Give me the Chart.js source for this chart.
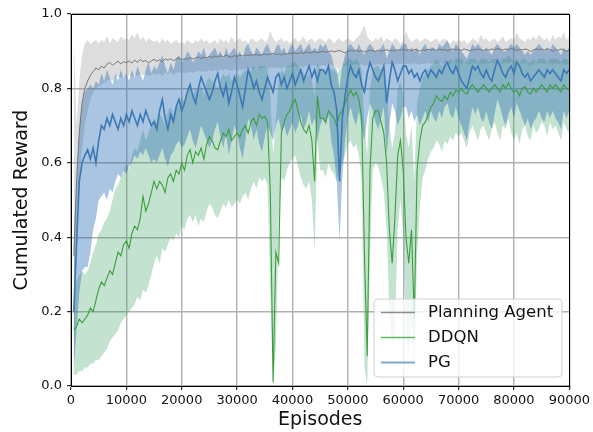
<!DOCTYPE html>
<html>
<head>
<meta charset="utf-8">
<script src="https://cdn.jsdelivr.net/npm/chart.js@4.4.1/dist/chart.umd.min.js"></script>
<style>
  html, body { margin: 0; padding: 0; background: #ffffff; }
  #wrap { width: 593px; height: 432px; position: relative; }
</style>
</head>
<body>
<div id="wrap"><canvas id="c" width="593" height="432"></canvas></div>
<script>
// ---- Data ----
const episodes = [
  500,1000,1500,2000,2500,3000,3500,4000,4500,5000,
  5500,6000,6500,7000,7500,8000,8500,9000,9500,10000,
  10500,11000,11500,12000,12500,13000,13500,14000,14500,15000,
  15500,16000,16500,17000,17500,18000,18500,19000,19500,20000,
  20500,21000,21500,22000,22500,23000,23500,24000,24500,25000,
  25500,26000,26500,27000,27500,28000,28500,29000,29500,30000,
  30500,31000,31500,32000,32500,33000,33500,34000,34500,35000,
  35500,36000,36500,37000,37500,38000,38500,39000,39500,40000,
  40500,41000,41500,42000,42500,43000,43500,44000,44500,45000,
  45500,46000,46500,47000,47500,48000,48500,49000,49500,50000,
  50500,51000,51500,52000,52500,53000,53500,54000,54500,55000,
  55500,56000,56500,57000,57500,58000,58500,59000,59500,60000,
  60500,61000,61500,62000,62500,63000,63500,64000,64500,65000,
  65500,66000,66500,67000,67500,68000,68500,69000,69500,70000,
  70500,71000,71500,72000,72500,73000,73500,74000,74500,75000,
  75500,76000,76500,77000,77500,78000,78500,79000,79500,80000,
  80500,81000,81500,82000,82500,83000,83500,84000,84500,85000,
  85500,86000,86500,87000,87500,88000,88500,89000,89500,90000
];

const xTicks = [0,10000,20000,30000,40000,50000,60000,70000,80000,90000];
const yTicks = [0.0,0.2,0.4,0.6,0.8,1.0];
const seriesNames = ["Planning Agent", "DDQN", "PG"];

const planningMean = [
  0.35,0.55,0.68,0.76,0.80,0.82,0.835,0.845,0.855,0.85,
  0.86,0.855,0.865,0.87,0.862,0.868,0.873,0.866,0.872,0.869,
  0.874,0.868,0.876,0.87,0.878,0.872,0.875,0.869,0.874,0.878,
  0.873,0.877,0.872,0.879,0.876,0.88,0.874,0.879,0.882,0.877,
  0.88,0.878,0.883,0.879,0.882,0.885,0.88,0.884,0.882,0.886,
  0.883,0.887,0.884,0.888,0.885,0.889,0.886,0.884,0.888,0.886,
  0.889,0.887,0.89,0.888,0.891,0.889,0.892,0.888,0.891,0.893,
  0.89,0.892,0.894,0.891,0.893,0.89,0.894,0.892,0.895,0.893,
  0.896,0.893,0.897,0.894,0.898,0.895,0.897,0.899,0.896,0.898,
  0.9,0.897,0.899,0.901,0.898,0.9,0.902,0.899,0.895,0.9,
  0.902,0.9,0.903,0.899,0.902,0.898,0.9,0.903,0.901,0.899,
  0.903,0.9,0.902,0.904,0.901,0.903,0.9,0.904,0.902,0.905,
  0.902,0.904,0.901,0.905,0.903,0.9,0.904,0.902,0.905,0.903,
  0.905,0.902,0.906,0.903,0.905,0.901,0.904,0.906,0.903,0.905,
  0.902,0.906,0.904,0.901,0.905,0.903,0.906,0.904,0.902,0.905,
  0.903,0.906,0.904,0.907,0.905,0.903,0.906,0.904,0.907,0.905,
  0.902,0.905,0.903,0.906,0.904,0.899,0.903,0.906,0.904,0.906,
  0.903,0.907,0.904,0.9,0.905,0.902,0.906,0.903,0.9,0.904
];
const planningUpper = [
  0.94,0.70,0.82,0.89,0.92,0.93,0.92,0.925,0.93,0.92,
  0.93,0.925,0.94,0.92,0.935,0.93,0.925,0.94,0.93,0.935,
  0.93,0.945,0.935,0.95,0.93,0.94,0.925,0.935,0.93,0.925,
  0.93,0.92,0.935,0.925,0.93,0.92,0.925,0.93,0.92,0.925,
  0.92,0.93,0.925,0.92,0.93,0.925,0.935,0.925,0.93,0.92,
  0.925,0.93,0.92,0.935,0.925,0.93,0.92,0.94,0.925,0.93,
  0.935,0.925,0.93,0.92,0.935,0.93,0.925,0.93,0.935,0.925,
  0.93,0.955,0.935,0.925,0.93,0.935,0.925,0.93,0.92,0.93,
  0.935,0.925,0.93,0.94,0.925,0.93,0.935,0.925,0.93,0.935,
  0.93,0.925,0.935,0.93,0.92,0.93,0.935,0.925,0.93,0.935,
  0.93,0.925,0.935,0.94,0.955,0.97,0.94,0.93,0.925,0.935,
  0.93,0.94,0.925,0.935,0.93,0.925,0.935,0.93,0.92,0.93,
  0.955,0.935,0.925,0.93,0.935,0.925,0.93,0.935,0.93,0.925,
  0.93,0.935,0.925,0.93,0.935,0.925,0.92,0.93,0.925,0.93,
  0.925,0.93,0.92,0.925,0.935,0.93,0.925,0.945,0.93,0.935,
  0.925,0.93,0.935,0.925,0.93,0.94,0.925,0.93,0.935,0.93,
  0.95,0.935,0.93,0.925,0.935,0.93,0.94,0.93,0.945,0.935,
  0.93,0.935,0.925,0.945,0.93,0.94,0.935,0.95,0.93,0.94
];
const planningLower = [
  0.0,0.40,0.55,0.64,0.70,0.74,0.77,0.79,0.80,0.805,
  0.81,0.815,0.82,0.825,0.82,0.83,0.832,0.828,0.835,0.83,
  0.836,0.83,0.838,0.832,0.84,0.835,0.838,0.832,0.836,0.84,
  0.836,0.84,0.834,0.842,0.838,0.843,0.836,0.842,0.845,0.84,
  0.843,0.84,0.846,0.842,0.845,0.848,0.843,0.847,0.845,0.849,
  0.846,0.85,0.847,0.851,0.848,0.852,0.849,0.847,0.851,0.849,
  0.852,0.85,0.853,0.851,0.854,0.852,0.855,0.851,0.854,0.856,
  0.853,0.855,0.857,0.854,0.856,0.853,0.857,0.855,0.858,0.856,
  0.859,0.856,0.86,0.857,0.861,0.858,0.86,0.862,0.859,0.861,
  0.863,0.86,0.862,0.864,0.861,0.855,0.85,0.862,0.858,0.863,
  0.865,0.863,0.866,0.862,0.865,0.861,0.863,0.866,0.864,0.862,
  0.866,0.863,0.865,0.867,0.864,0.866,0.863,0.867,0.865,0.868,
  0.865,0.867,0.864,0.868,0.866,0.863,0.867,0.865,0.868,0.866,
  0.868,0.865,0.869,0.866,0.868,0.864,0.867,0.869,0.866,0.868,
  0.865,0.869,0.867,0.864,0.868,0.866,0.869,0.867,0.865,0.868,
  0.866,0.869,0.867,0.87,0.868,0.866,0.869,0.867,0.87,0.868,
  0.865,0.868,0.866,0.869,0.867,0.86,0.866,0.869,0.867,0.869,
  0.866,0.87,0.867,0.863,0.868,0.865,0.869,0.866,0.863,0.867
];

const ddqnMean = [
  0.15,0.16,0.18,0.17,0.18,0.19,0.21,0.20,0.23,0.26,
  0.28,0.27,0.29,0.31,0.30,0.33,0.36,0.35,0.38,0.39,
  0.37,0.41,0.43,0.42,0.45,0.51,0.47,0.49,0.52,0.55,
  0.53,0.55,0.54,0.52,0.56,0.57,0.55,0.58,0.57,0.60,
  0.58,0.62,0.635,0.60,0.63,0.62,0.64,0.61,0.65,0.67,
  0.66,0.64,0.635,0.66,0.68,0.67,0.69,0.66,0.67,0.68,
  0.67,0.69,0.70,0.68,0.71,0.72,0.70,0.73,0.72,0.725,
  0.71,0.52,0.01,0.36,0.33,0.68,0.71,0.73,0.74,0.76,
  0.77,0.74,0.71,0.69,0.68,0.70,0.66,0.55,0.78,0.72,
  0.72,0.71,0.74,0.73,0.72,0.70,0.73,0.74,0.76,0.78,
  0.795,0.78,0.79,0.77,0.72,0.35,0.08,0.58,0.72,0.74,
  0.74,0.71,0.68,0.60,0.42,0.33,0.45,0.62,0.66,0.58,
  0.40,0.33,0.42,0.18,0.58,0.66,0.70,0.71,0.73,0.75,
  0.76,0.78,0.77,0.765,0.78,0.77,0.79,0.78,0.795,0.79,
  0.80,0.79,0.785,0.80,0.81,0.80,0.79,0.80,0.81,0.80,
  0.79,0.80,0.81,0.80,0.79,0.81,0.80,0.815,0.80,0.79,
  0.795,0.78,0.80,0.805,0.79,0.785,0.80,0.79,0.80,0.81,
  0.80,0.79,0.81,0.80,0.81,0.80,0.79,0.81,0.80,0.795
];
const ddqnUpper = [
  0.24,0.28,0.30,0.31,0.30,0.31,0.33,0.36,0.38,0.41,
  0.42,0.44,0.45,0.47,0.50,0.53,0.54,0.56,0.58,0.60,
  0.58,0.62,0.64,0.63,0.66,0.69,0.66,0.68,0.70,0.72,
  0.71,0.73,0.72,0.70,0.74,0.75,0.73,0.76,0.75,0.78,
  0.76,0.79,0.80,0.78,0.80,0.79,0.81,0.78,0.82,0.83,
  0.82,0.81,0.80,0.82,0.84,0.83,0.84,0.82,0.83,0.84,
  0.83,0.84,0.85,0.84,0.85,0.86,0.85,0.86,0.86,0.86,
  0.85,0.78,0.62,0.72,0.82,0.85,0.84,0.86,0.86,0.87,
  0.87,0.86,0.85,0.84,0.83,0.84,0.82,0.78,0.87,0.85,
  0.85,0.84,0.86,0.85,0.85,0.84,0.85,0.86,0.87,0.88,
  0.88,0.87,0.88,0.87,0.85,0.70,0.62,0.80,0.85,0.86,
  0.86,0.85,0.84,0.80,0.70,0.64,0.68,0.80,0.82,0.78,
  0.68,0.64,0.70,0.55,0.76,0.80,0.83,0.84,0.85,0.86,
  0.87,0.88,0.87,0.86,0.88,0.87,0.88,0.87,0.88,0.88,
  0.88,0.87,0.87,0.88,0.88,0.88,0.87,0.88,0.88,0.88,
  0.87,0.88,0.88,0.88,0.87,0.88,0.88,0.89,0.88,0.87,
  0.88,0.87,0.88,0.88,0.87,0.87,0.88,0.87,0.88,0.88,
  0.88,0.87,0.88,0.88,0.88,0.88,0.87,0.88,0.88,0.87
];
const ddqnLower = [
  0.03,0.03,0.04,0.04,0.05,0.05,0.06,0.06,0.07,0.07,
  0.08,0.09,0.10,0.12,0.13,0.14,0.15,0.17,0.18,0.19,
  0.20,0.21,0.22,0.24,0.23,0.26,0.25,0.27,0.30,0.33,
  0.35,0.33,0.37,0.36,0.38,0.40,0.39,0.41,0.40,0.43,
  0.42,0.45,0.46,0.44,0.46,0.43,0.45,0.44,0.47,0.49,
  0.48,0.46,0.45,0.47,0.49,0.48,0.50,0.48,0.49,0.50,
  0.49,0.51,0.52,0.50,0.53,0.55,0.53,0.56,0.55,0.56,
  0.54,0.25,0.0,0.10,0.45,0.56,0.55,0.58,0.60,0.61,
  0.62,0.59,0.56,0.54,0.53,0.55,0.50,0.36,0.66,0.58,
  0.58,0.56,0.60,0.58,0.57,0.55,0.58,0.60,0.62,0.65,
  0.66,0.64,0.65,0.62,0.55,0.05,0.0,0.35,0.58,0.60,
  0.59,0.56,0.52,0.42,0.20,0.10,0.15,0.42,0.50,0.40,
  0.15,0.08,0.18,0.03,0.35,0.48,0.56,0.58,0.61,0.63,
  0.64,0.66,0.65,0.63,0.66,0.65,0.67,0.66,0.68,0.67,
  0.68,0.66,0.64,0.68,0.70,0.68,0.66,0.69,0.70,0.68,
  0.66,0.69,0.71,0.68,0.66,0.70,0.69,0.72,0.68,0.66,
  0.68,0.65,0.69,0.70,0.67,0.66,0.70,0.68,0.69,0.71,
  0.70,0.67,0.71,0.69,0.70,0.68,0.66,0.71,0.69,0.68
];

const pgMean = [
  0.20,0.38,0.55,0.60,0.62,0.635,0.61,0.64,0.60,0.66,
  0.70,0.69,0.72,0.70,0.73,0.71,0.69,0.72,0.70,0.73,
  0.71,0.74,0.72,0.70,0.73,0.71,0.74,0.72,0.70,0.71,
  0.69,0.74,0.77,0.72,0.69,0.73,0.71,0.75,0.77,0.74,
  0.76,0.79,0.81,0.78,0.76,0.80,0.83,0.81,0.79,0.77,
  0.79,0.82,0.84,0.80,0.78,0.81,0.76,0.79,0.83,0.81,
  0.78,0.75,0.80,0.85,0.83,0.80,0.82,0.79,0.77,0.80,
  0.83,0.81,0.79,0.83,0.84,0.81,0.83,0.80,0.82,0.84,
  0.81,0.83,0.85,0.82,0.84,0.86,0.83,0.85,0.82,0.85,
  0.85,0.84,0.86,0.81,0.79,0.74,0.55,0.72,0.78,0.83,
  0.86,0.84,0.83,0.85,0.81,0.79,0.84,0.87,0.85,0.83,
  0.82,0.84,0.86,0.76,0.82,0.87,0.85,0.82,0.84,0.86,
  0.86,0.84,0.85,0.83,0.84,0.82,0.84,0.85,0.83,0.85,
  0.84,0.83,0.85,0.84,0.86,0.87,0.85,0.84,0.86,0.84,
  0.82,0.81,0.80,0.83,0.86,0.85,0.86,0.84,0.83,0.85,
  0.83,0.82,0.85,0.875,0.86,0.84,0.83,0.85,0.86,0.84,
  0.87,0.86,0.84,0.83,0.84,0.82,0.83,0.84,0.85,0.84,
  0.83,0.85,0.84,0.85,0.84,0.83,0.82,0.85,0.84,0.85
];
const pgUpper = [
  0.40,0.55,0.70,0.76,0.79,0.80,0.81,0.80,0.82,0.81,
  0.84,0.82,0.85,0.83,0.81,0.84,0.82,0.85,0.83,0.84,
  0.82,0.85,0.83,0.86,0.84,0.82,0.85,0.87,0.84,0.86,
  0.85,0.87,0.89,0.86,0.84,0.87,0.85,0.88,0.89,0.87,
  0.88,0.90,0.89,0.87,0.88,0.90,0.89,0.91,0.88,0.89,
  0.90,0.91,0.89,0.90,0.88,0.91,0.89,0.90,0.91,0.89,
  0.90,0.88,0.91,0.92,0.90,0.89,0.91,0.90,0.89,0.91,
  0.92,0.90,0.89,0.91,0.92,0.90,0.91,0.89,0.91,0.92,
  0.90,0.91,0.92,0.90,0.91,0.92,0.90,0.91,0.90,0.92,
  0.91,0.92,0.90,0.89,0.86,0.85,0.80,0.86,0.89,0.91,
  0.92,0.91,0.90,0.92,0.90,0.89,0.91,0.92,0.91,0.90,
  0.90,0.91,0.92,0.88,0.90,0.92,0.91,0.90,0.91,0.92,
  0.92,0.90,0.91,0.90,0.91,0.89,0.91,0.92,0.90,0.91,
  0.91,0.90,0.92,0.91,0.92,0.93,0.91,0.90,0.92,0.91,
  0.90,0.89,0.88,0.90,0.92,0.91,0.92,0.91,0.90,0.91,
  0.90,0.89,0.91,0.92,0.91,0.90,0.90,0.91,0.92,0.91,
  0.92,0.91,0.90,0.89,0.90,0.89,0.90,0.91,0.92,0.91,
  0.90,0.91,0.90,0.92,0.91,0.90,0.89,0.91,0.90,0.91
];
const pgLower = [
  0.05,0.15,0.25,0.31,0.32,0.32,0.36,0.42,0.45,0.50,
  0.51,0.52,0.50,0.53,0.52,0.55,0.57,0.56,0.58,0.57,
  0.59,0.60,0.62,0.61,0.63,0.62,0.64,0.62,0.60,0.61,
  0.60,0.62,0.64,0.61,0.59,0.62,0.63,0.65,0.66,0.64,
  0.65,0.67,0.69,0.66,0.64,0.67,0.70,0.68,0.66,0.64,
  0.66,0.69,0.71,0.67,0.64,0.68,0.62,0.66,0.70,0.68,
  0.64,0.61,0.66,0.72,0.70,0.66,0.69,0.65,0.63,0.67,
  0.70,0.68,0.66,0.70,0.72,0.68,0.70,0.67,0.69,0.71,
  0.68,0.70,0.73,0.69,0.71,0.74,0.70,0.72,0.66,0.70,
  0.72,0.70,0.73,0.66,0.62,0.55,0.39,0.56,0.66,0.72,
  0.75,0.72,0.70,0.74,0.69,0.66,0.72,0.76,0.74,0.71,
  0.69,0.72,0.75,0.62,0.70,0.76,0.74,0.70,0.72,0.75,
  0.75,0.72,0.74,0.71,0.73,0.70,0.72,0.74,0.71,0.74,
  0.72,0.71,0.74,0.72,0.75,0.76,0.73,0.72,0.75,0.72,
  0.70,0.68,0.66,0.71,0.75,0.73,0.75,0.72,0.71,0.74,
  0.71,0.69,0.73,0.77,0.75,0.72,0.70,0.73,0.75,0.72,
  0.76,0.74,0.72,0.70,0.72,0.69,0.71,0.72,0.74,0.72,
  0.71,0.74,0.72,0.74,0.72,0.71,0.69,0.74,0.72,0.74
];

// ---- Build chart ----
const FONT = "'DejaVu Sans', 'Liberation Sans', sans-serif";
const pts = arr => episodes.map((e, i) => ({x: e, y: arr[i]}));

const COLORS = {
  planLine: '#767676', planBand: 'rgba(150,150,150,0.32)',
  ddqnLine: '#3b9e3b', ddqnBand: 'rgba(60,160,100,0.30)',
  pgLine: '#3b78b4',   pgBand: 'rgba(40,110,180,0.40)',
  legPlan: '#8c8c8c', legDdqn: '#63b863', legPg: '#80a8d2'
};

function band(arr, fillTarget, color, order) {
  return { data: pts(arr), borderWidth: 0, pointRadius: 0, fill: fillTarget,
           backgroundColor: color, borderColor: 'rgba(0,0,0,0)', order: order, tension: 0 };
}
function line(arr, color, width, order, label) {
  return { label: label, data: pts(arr), borderWidth: width, pointRadius: 0, fill: false,
           borderColor: color, backgroundColor: color, order: order, tension: 0 };
}

const datasets = [
  band(planningUpper, '+1', COLORS.planBand, 9),
  band(planningLower, false, COLORS.planBand, 8),
  band(ddqnUpper, '+1', COLORS.ddqnBand, 7),
  band(ddqnLower, false, COLORS.ddqnBand, 6),
  band(pgUpper, '+1', COLORS.pgBand, 5),
  band(pgLower, false, COLORS.pgBand, 4),
  line(planningMean, COLORS.planLine, 1, 3, seriesNames[0]),
  line(ddqnMean, COLORS.ddqnLine, 1.1, 2, seriesNames[1]),
  line(pgMean, COLORS.pgLine, 1.6, 1, seriesNames[2])
];

const framePlugin = {
  id: 'frameAndLegend',
  afterDraw(chart) {
    const ctx = chart.ctx;
    const a = chart.chartArea;
    ctx.save();
    ctx.strokeStyle = '#000';
    ctx.lineWidth = 1;
    ctx.strokeRect(Math.round(a.left) + 0.5, Math.round(a.top) + 0.5,
                   Math.round(a.right - a.left) - 1 + 1, Math.round(a.bottom - a.top));
    // legend (bottom right, matplotlib-like)
    const bx = 374, by = 299, bw = 188, bh = 78, r = 4;
    ctx.beginPath();
    ctx.moveTo(bx + r, by);
    ctx.lineTo(bx + bw - r, by); ctx.quadraticCurveTo(bx + bw, by, bx + bw, by + r);
    ctx.lineTo(bx + bw, by + bh - r); ctx.quadraticCurveTo(bx + bw, by + bh, bx + bw - r, by + bh);
    ctx.lineTo(bx + r, by + bh); ctx.quadraticCurveTo(bx, by + bh, bx, by + bh - r);
    ctx.lineTo(bx, by + r); ctx.quadraticCurveTo(bx, by, bx + r, by);
    ctx.closePath();
    ctx.fillStyle = 'rgba(255,255,255,0.8)';
    ctx.fill();
    ctx.strokeStyle = '#d0d0d0';
    ctx.lineWidth = 1;
    ctx.stroke();
    const legCols = [COLORS.legPlan, COLORS.legDdqn, COLORS.legPg];
    const legW = [1.3, 1.3, 2];
    const rows = [312, 337, 362];
    ctx.font = "16.5px " + FONT;
    ctx.textBaseline = 'middle';
    ctx.textAlign = 'left';
    for (let i = 0; i < 3; i++) {
      ctx.beginPath();
      ctx.strokeStyle = legCols[i];
      ctx.lineWidth = legW[i];
      ctx.moveTo(381, rows[i] + 0.5);
      ctx.lineTo(415, rows[i] + 0.5);
      ctx.stroke();
      ctx.fillStyle = '#111';
      ctx.fillText(seriesNames[i], 428, rows[i] + 1);
    }
    ctx.restore();
  }
};

new Chart(document.getElementById('c'), {
  type: 'line',
  data: { datasets: datasets },
  plugins: [framePlugin],
  options: {
    responsive: false,
    animation: false,
    devicePixelRatio: 1,
    layout: { padding: { left: 0, right: 23, top: 14, bottom: 0 } },
    plugins: { legend: { display: false }, tooltip: { enabled: false },
               filler: { propagate: false } },
    scales: {
      x: {
        type: 'linear', min: 0, max: 90000, z: 1,
        afterBuildTicks: s => { s.ticks = xTicks.map(v => ({value: v})); },
        afterFit: s => { s.height = 46; },
        ticks: { color: '#111', font: { family: FONT, size: 13 }, padding: 3,
                 maxRotation: 0, autoSkip: false, callback: v => String(v) },
        grid: { color: '#b0b0b0', lineWidth: 1.4, tickLength: 4, tickColor: '#000', tickWidth: 1 },
        border: { color: '#000', width: 1 },
        title: { display: true, text: 'Episodes', color: '#111',
                 font: { family: FONT, size: 19 }, padding: { top: 0, bottom: 1 } }
      },
      y: {
        type: 'linear', min: 0, max: 1, z: 1,
        afterBuildTicks: s => { s.ticks = yTicks.map(v => ({value: v})); },
        afterFit: s => { s.width = 71; },
        ticks: { color: '#111', font: { family: FONT, size: 13 }, padding: 5,
                 callback: v => Number(v).toFixed(1) },
        grid: { color: '#b0b0b0', lineWidth: 1.4, tickLength: 4, tickColor: '#000', tickWidth: 1 },
        border: { color: '#000', width: 1 },
        title: { display: true, text: 'Cumulated Reward', color: '#111',
                 font: { family: FONT, size: 19 }, padding: { top: 10.5, bottom: 0 } }
      }
    }
  }
});
</script>
</body>
</html>
